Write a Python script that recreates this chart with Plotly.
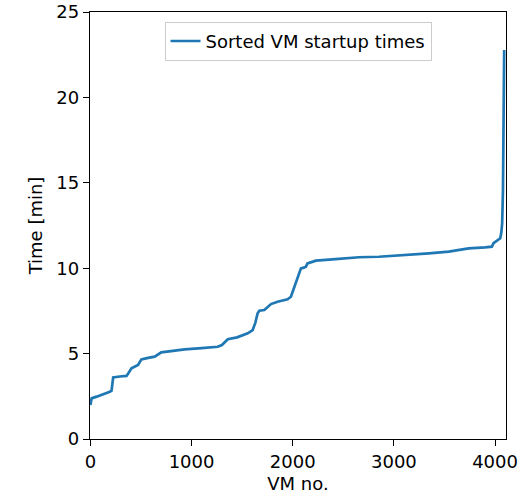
import plotly.graph_objects as go

# Sorted VM startup times
vm_no = [0, 3, 12, 61, 130, 192, 209, 215, 225, 290, 357, 375, 406, 471, 504, 570, 635, 701, 800, 931,
         1100, 1259, 1300, 1358, 1450, 1555, 1604, 1630, 1653, 1670, 1719, 1785, 1850, 1920, 1949, 1982,
         2031, 2081, 2110, 2130, 2146, 2229, 2392, 2655, 2852, 3100, 3345, 3542, 3739, 3900, 3968,
         3985, 4034, 4051, 4062, 4070, 4078, 4084, 4090]
time_min = [1.99, 2.2, 2.38, 2.48, 2.62, 2.77, 2.83, 3.3, 3.61, 3.66, 3.69, 3.85, 4.14, 4.33, 4.66, 4.75, 4.82,
            5.07, 5.15, 5.25, 5.32, 5.4, 5.5, 5.84, 5.95, 6.19, 6.38, 6.8, 7.36, 7.51, 7.55, 7.9, 8.04, 8.12,
            8.18, 8.33, 9.11, 9.99, 10.03, 10.09, 10.28, 10.44, 10.52, 10.64, 10.67, 10.75, 10.87, 10.97,
            11.16, 11.22, 11.26, 11.46, 11.65, 11.75, 12.1, 12.63, 14.5, 18.0, 22.78]

x_ticks = [0, 1000, 2000, 3000, 4000]
y_ticks = [0, 5, 10, 15, 20, 25]

FONT = dict(family="DejaVu Sans", size=18, color="black")

fig = go.Figure()
fig.add_trace(go.Scatter(
    x=vm_no, y=time_min, mode="lines",
    name="Sorted VM startup times",
    line=dict(color="#1f77b4", width=2.7),
))

axis_common = dict(
    showline=True, linecolor="black", linewidth=1.4, mirror=True,
    ticks="outside", ticklen=6, tickwidth=1.4, tickcolor="black",
    showgrid=False, zeroline=False, automargin=False,
    tickfont=FONT,
)

fig.update_layout(
    width=531, height=497,
    margin=dict(l=90, r=25, t=12, b=58),
    paper_bgcolor="white", plot_bgcolor="white",
    font=FONT,
    showlegend=True,
    legend=dict(
        x=0.5, xanchor="center", y=0.977, yanchor="top",
        bgcolor="rgba(255,255,255,0.8)", bordercolor="#cccccc", borderwidth=1,
        font=FONT,
    ),
    xaxis=dict(range=[-4, 4108], tickvals=x_ticks, ticktext=[str(v) for v in x_ticks],
               title=dict(text="VM no.", standoff=6, font=FONT),
               **axis_common),
    yaxis=dict(range=[0, 25], tickvals=y_ticks, ticktext=[str(v) for v in y_ticks],
               title=dict(text="Time [min]", standoff=8, font=FONT),
               **axis_common),
)

fig.write_html("out.html")
